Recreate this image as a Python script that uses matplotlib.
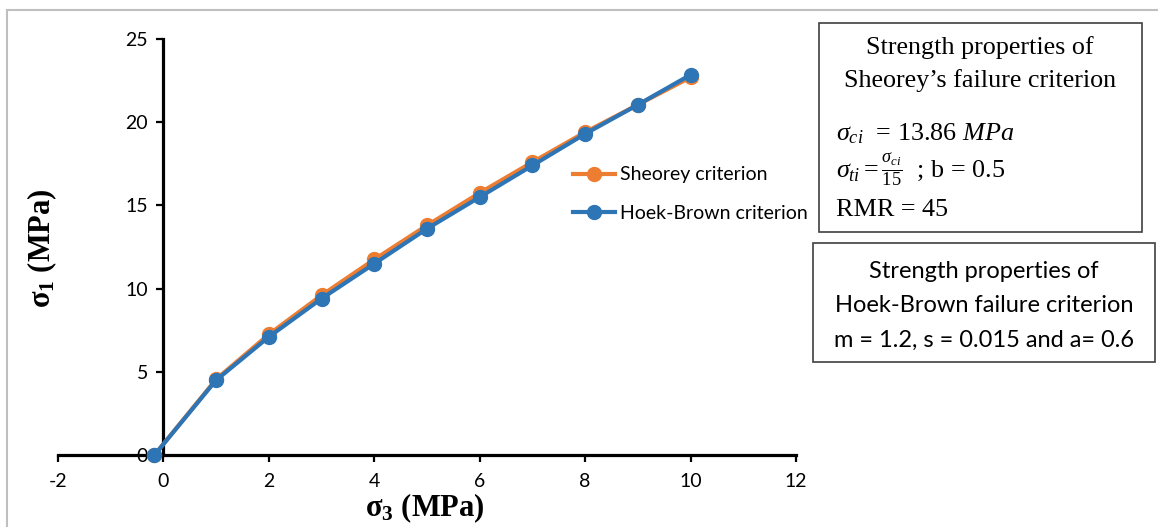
import matplotlib
matplotlib.use("Agg")
import matplotlib.pyplot as plt
from matplotlib.patches import Rectangle

# ---- data ----
sigma3 = [-0.17, 1, 2, 3, 4, 5, 6, 7, 8, 9, 10]
sheorey = [0.0, 4.55, 7.25, 9.6, 11.75, 13.8, 15.75, 17.6, 19.4, 21.05, 22.7]
hoek_brown = [0.0, 4.5, 7.1, 9.4, 11.5, 13.6, 15.5, 17.4, 19.3, 21.05, 22.85]
series_labels = ["Sheorey criterion", "Hoek-Brown criterion"]
x_ticks = [-2, 0, 2, 4, 6, 8, 10, 12]
y_ticks = [0, 5, 10, 15, 20, 25]

plt.rcParams['mathtext.fontset'] = 'custom'
plt.rcParams['mathtext.rm'] = 'Liberation Serif'
plt.rcParams['mathtext.it'] = 'Liberation Serif:italic'
plt.rcParams['mathtext.bf'] = 'Liberation Serif:bold'
plt.rcParams['axes.unicode_minus'] = False

W, H = 1158, 527
fig = plt.figure(figsize=(W / 100, H / 100), dpi=100)

# outer gray border
fig.patches.append(Rectangle((7 / W, -0.05), 1.2, (H - 10) / H + 0.05,
                             transform=fig.transFigure, fill=False,
                             edgecolor='#bfbfbf', lw=1.5))

left, right = 58 / W, 796 / W
bottom, top = 1 - 455 / H, 1 - 39 / H
ax = fig.add_axes([left, bottom, right - left, top - bottom])
ax.set_xlim(-2, 12)
ax.set_ylim(0, 25)
ax.patch.set_alpha(0)

orange = '#ED7D31'
blue = '#2E75B6'
ax.plot(sigma3, sheorey, color=orange, lw=3.0, marker='o', ms=10,
        label=series_labels[0], zorder=3, clip_on=False)
ax.plot(sigma3, hoek_brown, color=blue, lw=3.0, marker='o', ms=10,
        label=series_labels[1], zorder=4, clip_on=False)

for s in ['top', 'right']:
    ax.spines[s].set_visible(False)
ax.spines['left'].set_position(('data', 0))
ax.spines['bottom'].set_position(('data', 0))
for s in ['left', 'bottom']:
    ax.spines[s].set_linewidth(2.3)
    ax.spines[s].set_color('black')
ax.set_xticks(x_ticks)
ax.set_yticks(y_ticks)
ax.tick_params(axis='both', direction='out', length=5, width=1.6,
               labelsize=14, colors='black')
ax.tick_params(axis='x', pad=8)
ax.tick_params(axis='y', pad=6)
for lab in ax.get_xticklabels() + ax.get_yticklabels():
    lab.set_fontfamily('Lato')

fig.text(42 / W, 1 - 248 / H, r'$\mathbf{\sigma_1}$ (MPa)', rotation=90,
         ha='center', va='center', fontsize=22, fontweight='bold',
         family='Liberation Serif')
fig.text(425 / W, 1 - 508 / H, r'$\mathbf{\sigma_3}$ (MPa)',
         ha='center', va='center', fontsize=22, fontweight='bold',
         family='Liberation Serif')

leg = ax.legend(loc='center left', bbox_to_anchor=(555 / W, 1 - 194 / H),
                bbox_transform=fig.transFigure, frameon=False,
                handlelength=2.2, handletextpad=0.25, labelspacing=1.1,
                prop={'family': 'Lato', 'size': 14})

# box 1
fig.patches.append(Rectangle((819 / W, 1 - 232 / H), (1142 - 819) / W, (232 - 23) / H,
                             transform=fig.transFigure, fill=False,
                             edgecolor='#404040', lw=1.2))
fig.text(980 / W, 1 - 48 / H, "Strength properties of", ha='center', va='center',
         fontsize=18.8, family='Liberation Serif')
fig.text(980 / W, 1 - 81 / H, "Sheorey\u2019s failure criterion", ha='center', va='center',
         fontsize=18.8, family='Liberation Serif')
fig.text(836 / W, 1 - 134 / H, r"$\sigma_{ci}$  = 13.86 $MPa$", ha='left', va='center',
         fontsize=18.8, family='Liberation Serif')
fig.text(836 / W, 1 - 170 / H, r"$\sigma_{ti} = \frac{\sigma_{ci}}{15}$  ; b = 0.5", ha='left', va='center',
         fontsize=18.8, family='Liberation Serif')
fig.text(836 / W, 1 - 210 / H, "RMR = 45", ha='left', va='center',
         fontsize=18.8, family='Liberation Serif')

# box 2
fig.patches.append(Rectangle((813 / W, 1 - 362 / H), (1155 - 813) / W, (362 - 243) / H,
                             transform=fig.transFigure, fill=False,
                             edgecolor='#404040', lw=1.2))
for txt, yy in [("Strength properties of", 271),
                ("Hoek-Brown failure criterion", 305),
                ("m = 1.2, s = 0.015 and a= 0.6", 340)]:
    fig.text(984 / W, 1 - yy / H, txt, ha='center', va='center',
             fontsize=17, family='Lato')

fig.savefig('out.png', dpi=100)
